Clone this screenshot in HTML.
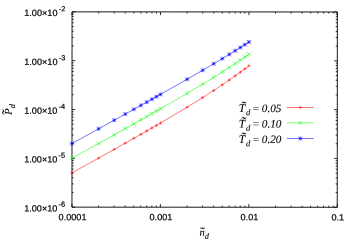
<!DOCTYPE html><html><head><meta charset="utf-8"><style>html,body{margin:0;padding:0;background:#fff}svg{display:block;filter:blur(0.3px)}text{text-rendering:geometricPrecision}.s{font-family:"Liberation Sans",sans-serif}.r{font-family:"Liberation Serif",serif;font-style:italic}</style></head><body><svg width="355" height="249" viewBox="0 0 355 249">
<rect width="355" height="249" fill="#fff"/>
<g transform="rotate(0.03 177 124)">
<path d="M72.00 207.2v-3.2M72.00 11.9v3.2M98.62 207.2v-1.6M98.62 11.9v1.6M114.19 207.2v-1.6M114.19 11.9v1.6M125.24 207.2v-1.6M125.24 11.9v1.6M133.81 207.2v-1.6M133.81 11.9v1.6M140.81 207.2v-1.6M140.81 11.9v1.6M146.73 207.2v-1.6M146.73 11.9v1.6M151.86 207.2v-1.6M151.86 11.9v1.6M156.39 207.2v-1.6M156.39 11.9v1.6M160.43 207.2v-3.2M160.43 11.9v3.2M187.05 207.2v-1.6M187.05 11.9v1.6M202.63 207.2v-1.6M202.63 11.9v1.6M213.68 207.2v-1.6M213.68 11.9v1.6M222.25 207.2v-1.6M222.25 11.9v1.6M229.25 207.2v-1.6M229.25 11.9v1.6M235.17 207.2v-1.6M235.17 11.9v1.6M240.30 207.2v-1.6M240.30 11.9v1.6M244.82 207.2v-1.6M244.82 11.9v1.6M248.87 207.2v-3.2M248.87 11.9v3.2M275.49 207.2v-1.6M275.49 11.9v1.6M291.06 207.2v-1.6M291.06 11.9v1.6M302.11 207.2v-1.6M302.11 11.9v1.6M310.68 207.2v-1.6M310.68 11.9v1.6M317.68 207.2v-1.6M317.68 11.9v1.6M323.60 207.2v-1.6M323.60 11.9v1.6M328.73 207.2v-1.6M328.73 11.9v1.6M333.25 207.2v-1.6M333.25 11.9v1.6M337.30 207.2v-3.2M337.30 11.9v3.2M72.0 11.90h3.2M337.3 11.90h-3.2M72.0 46.03h1.6M337.3 46.03h-1.6M72.0 37.43h1.6M337.3 37.43h-1.6M72.0 31.33h1.6M337.3 31.33h-1.6M72.0 26.60h1.6M337.3 26.60h-1.6M72.0 22.73h1.6M337.3 22.73h-1.6M72.0 19.46h1.6M337.3 19.46h-1.6M72.0 16.63h1.6M337.3 16.63h-1.6M72.0 14.13h1.6M337.3 14.13h-1.6M72.0 60.72h3.2M337.3 60.72h-3.2M72.0 94.85h1.6M337.3 94.85h-1.6M72.0 86.25h1.6M337.3 86.25h-1.6M72.0 80.15h1.6M337.3 80.15h-1.6M72.0 75.42h1.6M337.3 75.42h-1.6M72.0 71.56h1.6M337.3 71.56h-1.6M72.0 68.29h1.6M337.3 68.29h-1.6M72.0 65.46h1.6M337.3 65.46h-1.6M72.0 62.96h1.6M337.3 62.96h-1.6M72.0 109.55h3.2M337.3 109.55h-3.2M72.0 143.68h1.6M337.3 143.68h-1.6M72.0 135.08h1.6M337.3 135.08h-1.6M72.0 128.98h1.6M337.3 128.98h-1.6M72.0 124.25h1.6M337.3 124.25h-1.6M72.0 120.38h1.6M337.3 120.38h-1.6M72.0 117.11h1.6M337.3 117.11h-1.6M72.0 114.28h1.6M337.3 114.28h-1.6M72.0 111.78h1.6M337.3 111.78h-1.6M72.0 158.38h3.2M337.3 158.38h-3.2M72.0 192.50h1.6M337.3 192.50h-1.6M72.0 183.90h1.6M337.3 183.90h-1.6M72.0 177.80h1.6M337.3 177.80h-1.6M72.0 173.07h1.6M337.3 173.07h-1.6M72.0 169.21h1.6M337.3 169.21h-1.6M72.0 165.94h1.6M337.3 165.94h-1.6M72.0 163.11h1.6M337.3 163.11h-1.6M72.0 160.61h1.6M337.3 160.61h-1.6M72.0 207.20h3.2M337.3 207.20h-3.2" stroke="#000" stroke-width="0.8" fill="none"/>
<rect x="72.0" y="11.9" width="265.30" height="195.30" fill="none" stroke="#000" stroke-width="0.9"/>
<polyline points="72.00,172.95 98.62,158.13 114.19,149.42 125.24,143.20 133.81,138.35 140.81,134.36 146.73,130.98 151.86,128.03 156.39,125.41 160.43,123.06 187.05,107.25 202.63,97.58 213.68,90.47 222.25,84.77 229.25,79.98 235.17,75.82 240.30,72.14 244.82,68.83 248.87,65.80" fill="none" stroke="#ff0000" stroke-width="0.55"/>
<path d="M286.8 107.4H313.8" stroke="#ff0000" stroke-width="0.55" fill="none"/>
<path d="M70.50 172.95h3.0M72.00 171.45v3.0M97.12 158.13h3.0M98.62 156.63v3.0M112.69 149.42h3.0M114.19 147.92v3.0M123.74 143.20h3.0M125.24 141.70v3.0M132.31 138.35h3.0M133.81 136.85v3.0M139.31 134.36h3.0M140.81 132.86v3.0M145.23 130.98h3.0M146.73 129.48v3.0M150.36 128.03h3.0M151.86 126.53v3.0M154.89 125.41h3.0M156.39 123.91v3.0M158.93 123.06h3.0M160.43 121.56v3.0M185.55 107.25h3.0M187.05 105.75v3.0M201.13 97.58h3.0M202.63 96.08v3.0M212.18 90.47h3.0M213.68 88.97v3.0M220.75 84.77h3.0M222.25 83.27v3.0M227.75 79.98h3.0M229.25 78.48v3.0M233.67 75.82h3.0M235.17 74.32v3.0M238.80 72.14h3.0M240.30 70.64v3.0M243.32 68.83h3.0M244.82 67.33v3.0M247.37 65.80h3.0M248.87 64.30v3.0M298.80 107.40h3.0M300.30 105.90v3.0" stroke="#ff0000" stroke-width="0.6" fill="none"/>
<polyline points="72.00,158.30 98.62,143.53 114.19,134.85 125.24,128.68 133.81,123.87 140.81,119.93 146.73,116.59 151.86,113.68 156.39,111.11 160.43,108.81 187.05,93.39 202.63,84.10 213.68,77.32 222.25,71.94 229.25,67.44 235.17,63.56 240.30,60.13 244.82,57.05 248.87,54.25" fill="none" stroke="#00ff00" stroke-width="0.55"/>
<path d="M286.8 122.85H313.8" stroke="#00ff00" stroke-width="0.55" fill="none"/>
<path d="M70.10 156.40l3.8 3.8M70.10 160.20l3.8 -3.8M96.72 141.63l3.8 3.8M96.72 145.43l3.8 -3.8M112.29 132.95l3.8 3.8M112.29 136.75l3.8 -3.8M123.34 126.78l3.8 3.8M123.34 130.58l3.8 -3.8M131.91 121.97l3.8 3.8M131.91 125.77l3.8 -3.8M138.91 118.03l3.8 3.8M138.91 121.83l3.8 -3.8M144.83 114.69l3.8 3.8M144.83 118.49l3.8 -3.8M149.96 111.78l3.8 3.8M149.96 115.58l3.8 -3.8M154.49 109.21l3.8 3.8M154.49 113.01l3.8 -3.8M158.53 106.91l3.8 3.8M158.53 110.71l3.8 -3.8M185.15 91.49l3.8 3.8M185.15 95.29l3.8 -3.8M200.73 82.20l3.8 3.8M200.73 86.00l3.8 -3.8M211.78 75.42l3.8 3.8M211.78 79.22l3.8 -3.8M220.35 70.04l3.8 3.8M220.35 73.84l3.8 -3.8M227.35 65.54l3.8 3.8M227.35 69.34l3.8 -3.8M233.27 61.66l3.8 3.8M233.27 65.46l3.8 -3.8M238.40 58.23l3.8 3.8M238.40 62.03l3.8 -3.8M242.92 55.15l3.8 3.8M242.92 58.95l3.8 -3.8M246.97 52.35l3.8 3.8M246.97 56.15l3.8 -3.8M298.40 120.95l3.8 3.8M298.40 124.75l3.8 -3.8" stroke="#00ff00" stroke-width="0.6" fill="none"/>
<polyline points="72.00,143.63 98.62,128.89 114.19,120.25 125.24,114.10 133.81,109.33 140.81,105.42 146.73,102.11 151.86,99.23 156.39,96.69 160.43,94.41 187.05,79.28 202.63,70.26 213.68,63.75 222.25,58.61 229.25,54.35 235.17,50.69 240.30,47.47 244.82,44.60 248.87,41.99" fill="none" stroke="#0000ff" stroke-width="0.55"/>
<path d="M286.8 138.4H313.8" stroke="#0000ff" stroke-width="0.55" fill="none"/>
<path d="M70.10 143.63h3.8M72.00 141.73v3.8M70.10 141.73l3.8 3.8M70.10 145.53l3.8 -3.8M96.72 128.89h3.8M98.62 126.99v3.8M96.72 126.99l3.8 3.8M96.72 130.79l3.8 -3.8M112.29 120.25h3.8M114.19 118.35v3.8M112.29 118.35l3.8 3.8M112.29 122.15l3.8 -3.8M123.34 114.10h3.8M125.24 112.20v3.8M123.34 112.20l3.8 3.8M123.34 116.00l3.8 -3.8M131.91 109.33h3.8M133.81 107.43v3.8M131.91 107.43l3.8 3.8M131.91 111.23l3.8 -3.8M138.91 105.42h3.8M140.81 103.52v3.8M138.91 103.52l3.8 3.8M138.91 107.32l3.8 -3.8M144.83 102.11h3.8M146.73 100.21v3.8M144.83 100.21l3.8 3.8M144.83 104.01l3.8 -3.8M149.96 99.23h3.8M151.86 97.33v3.8M149.96 97.33l3.8 3.8M149.96 101.13l3.8 -3.8M154.49 96.69h3.8M156.39 94.79v3.8M154.49 94.79l3.8 3.8M154.49 98.59l3.8 -3.8M158.53 94.41h3.8M160.43 92.51v3.8M158.53 92.51l3.8 3.8M158.53 96.31l3.8 -3.8M185.15 79.28h3.8M187.05 77.38v3.8M185.15 77.38l3.8 3.8M185.15 81.18l3.8 -3.8M200.73 70.26h3.8M202.63 68.36v3.8M200.73 68.36l3.8 3.8M200.73 72.16l3.8 -3.8M211.78 63.75h3.8M213.68 61.85v3.8M211.78 61.85l3.8 3.8M211.78 65.65l3.8 -3.8M220.35 58.61h3.8M222.25 56.71v3.8M220.35 56.71l3.8 3.8M220.35 60.51l3.8 -3.8M227.35 54.35h3.8M229.25 52.45v3.8M227.35 52.45l3.8 3.8M227.35 56.25l3.8 -3.8M233.27 50.69h3.8M235.17 48.79v3.8M233.27 48.79l3.8 3.8M233.27 52.59l3.8 -3.8M238.40 47.47h3.8M240.30 45.57v3.8M238.40 45.57l3.8 3.8M238.40 49.37l3.8 -3.8M242.92 44.60h3.8M244.82 42.70v3.8M242.92 42.70l3.8 3.8M242.92 46.50l3.8 -3.8M246.97 41.99h3.8M248.87 40.09v3.8M246.97 40.09l3.8 3.8M246.97 43.89l3.8 -3.8M298.40 138.40h3.8M300.30 136.50v3.8M298.40 136.50l3.8 3.8M298.40 140.30l3.8 -3.8" stroke="#0000ff" stroke-width="0.6" fill="none"/>
<g class="s" font-size="9.15" fill="#000" stroke="#000" stroke-width="0.2">
<text x="24.2" y="16.20">1.00×10<tspan font-size="7.4" dy="-4.8" dx="1.2">-2</tspan></text>
<text x="24.2" y="65.02">1.00×10<tspan font-size="7.4" dy="-4.8" dx="1.2">-3</tspan></text>
<text x="24.2" y="113.85">1.00×10<tspan font-size="7.4" dy="-4.8" dx="1.2">-4</tspan></text>
<text x="24.2" y="162.68">1.00×10<tspan font-size="7.4" dy="-4.8" dx="1.2">-5</tspan></text>
<text x="24.2" y="211.50">1.00×10<tspan font-size="7.4" dy="-4.8" dx="1.2">-6</tspan></text>
<text x="72.60" y="220.3" text-anchor="middle">0.0001</text>
<text x="161.03" y="220.3" text-anchor="middle">0.001</text>
<text x="249.47" y="220.3" text-anchor="middle">0.01</text>
<text x="337.90" y="220.3" text-anchor="middle">0.1</text>
</g>
<g class="r" font-size="10.9" fill="#000" stroke="#000" stroke-width="0.1">
<text y="111.9"><tspan x="238.7" font-size="11.6">T</tspan><tspan x="245.9" font-size="8.6" dy="3.3">d</tspan><tspan x="252.2" dy="-3.3">=</tspan><tspan x="261.8" font-size="11.2">0.05</tspan></text>
<text x="240.7" y="110.9" font-size="14">˜</text>
<text y="127.45"><tspan x="238.7" font-size="11.6">T</tspan><tspan x="245.9" font-size="8.6" dy="3.3">d</tspan><tspan x="252.2" dy="-3.3">=</tspan><tspan x="261.8" font-size="11.2">0.10</tspan></text>
<text x="240.7" y="126.45" font-size="14">˜</text>
<text y="143.0"><tspan x="238.7" font-size="11.6">T</tspan><tspan x="245.9" font-size="8.6" dy="3.3">d</tspan><tspan x="252.2" dy="-3.3">=</tspan><tspan x="261.8" font-size="11.2">0.20</tspan></text>
<text x="240.7" y="142.0" font-size="14">˜</text>
<text x="199.6" y="235.7" font-size="10.6">n<tspan font-size="8.3" dy="3.1">d</tspan></text>
<text x="199.6" y="236.5" font-size="13.4">˜</text>
<g transform="translate(11.7,114.8) rotate(-90)"><text x="0" y="0" font-size="10.4">P<tspan font-size="8.3" dy="3.2">d</tspan></text><text x="-0.5" y="0.6" font-size="15">˜</text></g>
</g>
</g>
</svg></body></html>
